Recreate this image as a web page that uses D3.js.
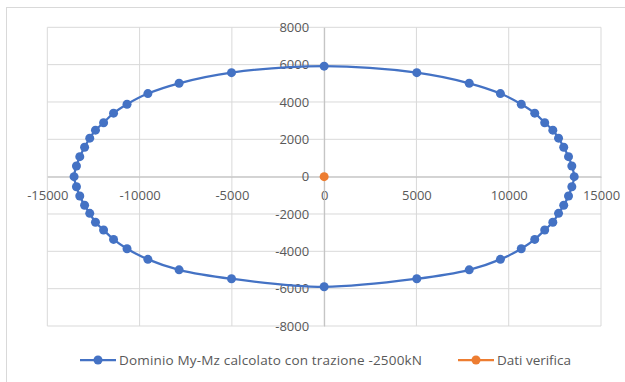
<!DOCTYPE html>
<html>
<head>
<meta charset="utf-8">
<script src="https://cdn.jsdelivr.net/npm/d3@7"></script>
<style>
  html, body { margin: 0; padding: 0; background: #fff; }
  svg { display: block; }
  text { font-family: "Open Sans", "Liberation Sans", sans-serif; fill: #595959; }
</style>
</head>
<body>
<svg id="chart" width="625" height="382"></svg>
<script>
// ---- Data ----
const seriesNames = ["Dominio My-Mz calcolato con trazione -2500kN", "Dati verifica"];
const seriesColors = ["#4472C4", "#ED7D31"];

// Dominio My-Mz: My (x) and Mz (y), clockwise from the top
const myValues = [
  0, 5020, 7860, 9550, 10680, 11410, 11950, 12390, 12700, 12980, 13240, 13420, 13550,
  13420, 13240, 12980, 12700, 12390, 11950, 11410, 10680, 9550, 7860, 5020,
  0, -5020, -7860, -9550, -10680, -11410, -11950, -12390, -12700, -12980, -13240, -13420, -13550,
  -13420, -13240, -12980, -12700, -12390, -11950, -11410, -10680, -9550, -7860, -5020
];
const mzValues = [
  5920, 5570, 5000, 4450, 3880, 3400, 2890, 2490, 2060, 1575, 1070, 570, 0,
  -540, -1035, -1535, -1965, -2445, -2860, -3360, -3860, -4430, -4990, -5470,
  -5900, -5470, -4990, -4430, -3860, -3360, -2860, -2445, -1965, -1535, -1035, -540, 0,
  570, 1070, 1575, 2060, 2490, 2890, 3400, 3880, 4450, 5000, 5570
];

// Dati verifica
const verMy = [0];
const verMz = [0];

const xTicks = [-15000, -10000, -5000, 0, 5000, 10000, 15000];
const yTicks = [-8000, -6000, -4000, -2000, 0, 2000, 4000, 6000, 8000];

// ---- Layout ----
const svg = d3.select("#chart");
const plot = { left: 47.3, right: 601, top: 27.3, bottom: 326 };

const x = d3.scaleLinear().domain([-15000, 15000]).range([plot.left, plot.right]);
const y = d3.scaleLinear().domain([-8000, 8000]).range([plot.bottom, plot.top]);

// outer chart border
svg.append("rect")
  .attr("x", 6.5).attr("y", 7.5)
  .attr("width", 640).attr("height", 400)
  .attr("fill", "none").attr("stroke", "#d9d9d9").attr("stroke-width", 1);

// gridlines
const grid = svg.append("g");
grid.selectAll("line.v").data(xTicks).join("line")
  .attr("x1", d => x(d)).attr("x2", d => x(d))
  .attr("y1", plot.top).attr("y2", plot.bottom)
  .attr("stroke", "#d9d9d9").attr("stroke-width", 1);
grid.selectAll("line.h").data(yTicks).join("line")
  .attr("x1", plot.left).attr("x2", plot.right)
  .attr("y1", d => y(d)).attr("y2", d => y(d))
  .attr("stroke", "#d9d9d9").attr("stroke-width", 1);

// axes through zero
const fmt = d => String(d);
const xAxis = d3.axisBottom(x).tickValues(xTicks).tickSize(0).tickPadding(12).tickFormat(fmt);
const yAxis = d3.axisLeft(y).tickValues(yTicks).tickSize(0).tickPadding(14).tickFormat(fmt);

const gx = svg.append("g").attr("transform", `translate(0,${y(0)})`).call(xAxis);
const gy = svg.append("g").attr("transform", `translate(${x(0)},0)`).call(yAxis);
[gx, gy].forEach(g => {
  g.select(".domain").attr("stroke", "#bfbfbf").attr("stroke-width", 1);
  g.selectAll("text").attr("font-size", 13).attr("fill", "#595959")
    .attr("font-family", "'Open Sans', 'Liberation Sans', sans-serif");
});
gx.selectAll(".tick text").attr("dy", "0.32em").attr("y", 19);
gy.selectAll(".tick text").attr("x", -15);

// ---- Series 1: smooth closed curve ----
const pts = myValues.map((v, i) => [v, mzValues[i]]);
const line = d3.line().x(d => x(d[0])).y(d => y(d[1])).curve(d3.curveCatmullRomClosed.alpha(0.5));
svg.append("path").datum(pts)
  .attr("d", line)
  .attr("fill", "none").attr("stroke", seriesColors[0]).attr("stroke-width", 2.25);
svg.append("g").selectAll("circle").data(pts).join("circle")
  .attr("cx", d => x(d[0])).attr("cy", d => y(d[1])).attr("r", 4.5)
  .attr("fill", seriesColors[0]);

// ---- Series 2 ----
const vpts = verMy.map((v, i) => [v, verMz[i]]);
svg.append("g").selectAll("circle").data(vpts).join("circle")
  .attr("cx", d => x(d[0])).attr("cy", d => y(d[1])).attr("r", 4.5)
  .attr("fill", seriesColors[1]);

// ---- Legend ----
const legendY = 360;
const legendItems = [
  { name: seriesNames[0], color: seriesColors[0], x0: 80, w: 303 },
  { name: seriesNames[1], color: seriesColors[1], x0: 458, w: 74 }
];
const lg = svg.append("g");
legendItems.forEach(it => {
  lg.append("line").attr("x1", it.x0).attr("x2", it.x0 + 36)
    .attr("y1", legendY).attr("y2", legendY)
    .attr("stroke", it.color).attr("stroke-width", 2.25);
  lg.append("circle").attr("cx", it.x0 + 18).attr("cy", legendY).attr("r", 4.5).attr("fill", it.color);
  lg.append("text").attr("x", it.x0 + 39).attr("y", legendY).attr("dy", "0.35em")
    .attr("font-size", 13.5).attr("textLength", it.w).attr("lengthAdjust", "spacing")
    .text(it.name);
});
</script>
</body>
</html>
